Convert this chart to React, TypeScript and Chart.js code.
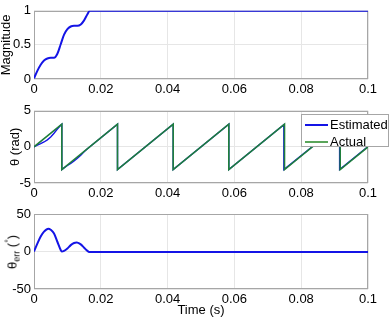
import React, { useEffect, useRef } from 'react';
import { Chart, registerables } from 'chart.js';
Chart.register(...registerables);

const FONT = "'Liberation Sans', Arial, Helvetica, sans-serif";

const timeTicks = [0, 0.02, 0.04, 0.06, 0.08, 0.1];
const magTicks = [0, 0.5, 1];
const thetaTicks = [-5, 0, 5];
const errTicks = [-50, 0, 50];

// Magnitude (estimated)
const magTime = [0, 0.001, 0.002, 0.003, 0.004, 0.005, 0.006, 0.007, 0.008, 0.009, 0.010, 0.011, 0.012, 0.013, 0.014, 0.015, 0.016, 0.0167, 0.1];
const magValue = [0.01, 0.12, 0.21, 0.27, 0.30, 0.31, 0.31, 0.37, 0.51, 0.65, 0.73, 0.77, 0.78, 0.78, 0.80, 0.86, 0.95, 1.0, 1.0];

// Phase angle theta (rad)
const estTime = [0, 0.001, 0.002, 0.003, 0.004, 0.005, 0.006, 0.007, 0.008, 0.00833, 0.00833, 0.009, 0.010, 0.011, 0.012, 0.013, 0.014, 0.015, 0.016, 0.017, 0.025, 0.025, 0.04167, 0.04167, 0.05833, 0.05833, 0.0748, 0.0748, 0.0915, 0.0915, 0.1];
const estValue = [0, 0.24, 0.44, 0.68, 0.98, 1.38, 1.9, 2.48, 3.0, 3.14, -3.14, -2.91, -2.58, -2.29, -1.96, -1.58, -1.14, -0.68, -0.25, 0.13, 3.14, -3.14, 3.14, -3.14, 3.14, -3.14, 3.07, -3.14, 3.07, -3.14, 0.06];
const actTime = [0, 0.00833, 0.00833, 0.025, 0.025, 0.04167, 0.04167, 0.05833, 0.05833, 0.075, 0.075, 0.09167, 0.09167, 0.1];
const actValue = [0, 3.14, -3.14, 3.14, -3.14, 3.14, -3.14, 3.14, -3.14, 3.14, -3.14, 3.14, -3.14, 0];

// Phase error (degrees)
const errTime = [0, 0.001, 0.002, 0.003, 0.0043, 0.005, 0.006, 0.007, 0.008, 0.0083, 0.009, 0.010, 0.011, 0.012, 0.0127, 0.013, 0.014, 0.015, 0.016, 0.0165, 0.1];
const errValue = [0, 10.5, 20, 26.5, 30.5, 29, 24, 13, 2, 0, 0.8, 4, 8.5, 11.3, 12, 11.8, 9.5, 5, 0.8, -0.5, -0.5];

const BLUE = '#1414e6';
const GREEN = '#1f7f3c';
const GRID = '#e6e6e6';
const FRAME = '#a6a6a6';

const zip = (xs: number[], ys: number[]) => xs.map((x, i) => ({ x, y: ys[i] }));

const framePlugin = {
  id: 'frame',
  beforeDatasetsDraw(chart: any) {
    const { ctx, chartArea: a } = chart;
    ctx.save();
    ctx.strokeStyle = FRAME;
    ctx.lineWidth = 1;
    ctx.strokeRect(Math.round(a.left) + 0.5, Math.round(a.top) + 0.5, Math.round(a.right - a.left) - 1, Math.round(a.bottom - a.top) - 1);
    ctx.restore();
  },
};

type Opts = {
  datasets: any[];
  yTicks: number[];
  yTitle?: string;
  yTitlePad?: number;
  padTop: number;
  xHeight: number;
  xTitle?: string;
};

function makeConfig(o: Opts): any {
  return {
    type: 'line',
    data: { datasets: o.datasets },
    plugins: [framePlugin],
    options: {
      responsive: false,
      animation: false,
      parsing: true,
      layout: { padding: { left: 0, right: 23, top: o.padTop, bottom: 0 } },
      plugins: { legend: { display: false }, tooltip: { enabled: false } },
      elements: { point: { radius: 0 } },
      scales: {
        x: {
          type: 'linear',
          min: 0,
          max: 0.1,
          afterBuildTicks: (s: any) => { s.ticks = timeTicks.map((v) => ({ value: v })); },
          afterFit: (s: any) => { s.height = o.xHeight; },
          ticks: { color: '#000', font: { size: 13, family: FONT }, padding: 3, maxRotation: 0, callback: (v: any) => String(v) },
          grid: { color: GRID, drawTicks: false, lineWidth: 1 },
          border: { display: false },
          title: o.xTitle
            ? { display: true, text: o.xTitle, color: '#000', font: { size: 13, family: FONT, lineHeight: 1 }, padding: { top: 0, bottom: 2 } }
            : { display: false },
        },
        y: {
          type: 'linear',
          min: o.yTicks[0],
          max: o.yTicks[o.yTicks.length - 1],
          afterBuildTicks: (s: any) => { s.ticks = o.yTicks.map((v) => ({ value: v })); },
          afterFit: (s: any) => { s.width = 34; },
          ticks: { color: '#000', font: { size: 13, family: FONT }, padding: 3, callback: (v: any) => String(v) },
          grid: { color: GRID, drawTicks: false, lineWidth: 1 },
          border: { display: false },
          title: o.yTitle
            ? { display: true, text: o.yTitle, color: '#000', font: { size: 13, family: FONT, lineHeight: 1 }, padding: { top: o.yTitlePad ?? 0, bottom: 0 } }
            : { display: false },
        },
      },
    },
  };
}

function Panel({ top, height, config }: { top: number; height: number; config: any }) {
  const ref = useRef<HTMLCanvasElement | null>(null);
  useEffect(() => {
    if (!ref.current) return;
    const chart = new Chart(ref.current, config);
    return () => chart.destroy();
  }, []);
  return <canvas ref={ref} width={391} height={height} style={{ position: 'absolute', left: 0, top, width: 391, height }} />;
}

export default function App() {
  const magConfig = makeConfig({
    datasets: [{ label: 'Magnitude', data: zip(magTime, magValue), borderColor: BLUE, borderWidth: 2, cubicInterpolationMode: 'monotone' }],
    yTicks: magTicks,
    yTitle: 'Magnitude',
    yTitlePad: 0,
    padTop: 5,
    xHeight: 21,
  });
  const thetaConfig = makeConfig({
    datasets: [
      { label: 'Estimated', data: zip(estTime, estValue), borderColor: BLUE, borderWidth: 1.4, tension: 0, order: 1 },
      { label: 'Actual', data: zip(actTime, actValue), borderColor: GREEN, borderWidth: 1.6, tension: 0, order: 0 },
    ],
    yTicks: thetaTicks,
    yTitle: 'θ (rad)',
    yTitlePad: 9,
    padTop: 10,
    xHeight: 17,
  });
  const errConfig = makeConfig({
    datasets: [{ label: 'θerr', data: zip(errTime, errValue), borderColor: BLUE, borderWidth: 2, cubicInterpolationMode: 'monotone' }],
    yTicks: errTicks,
    padTop: 14,
    xHeight: 30,
    xTitle: 'Time (s)',
  });

  return (
    <div style={{ position: 'fixed', left: 0, top: 0, width: 391, height: 319, background: '#fff', overflow: 'hidden', fontFamily: FONT }}>
      <Panel top={0} height={100} config={magConfig} />
      <Panel top={100} height={100} config={thetaConfig} />
      <Panel top={200} height={119} config={errConfig} />
      <div
        style={{
          position: 'absolute', left: 13, top: 252, transform: 'translate(-50%, -50%) rotate(-90deg)',
          fontSize: 13, lineHeight: 1, whiteSpace: 'nowrap', color: '#000',
        }}
      >
        θ<sub style={{ fontSize: 9, verticalAlign: '-3px', lineHeight: 1 }}>err</sub> (<sup style={{ fontSize: 9, verticalAlign: '5px', lineHeight: 1 }}>°</sup>)
      </div>
      <div
        style={{
          position: 'absolute', left: 301, top: 114, width: 88, height: 33, boxSizing: 'border-box',
          border: `1px solid ${FRAME}`, background: '#fff', fontSize: 13, color: '#000',
        }}
      >
        <div style={{ position: 'absolute', left: 3, top: 9, width: 23, height: 2, background: BLUE }} />
        <div style={{ position: 'absolute', left: 28, top: 2, lineHeight: '15px' }}>Estimated</div>
        <div style={{ position: 'absolute', left: 3, top: 26, width: 23, height: 2, background: '#5aa55a' }} />
        <div style={{ position: 'absolute', left: 28, top: 19, lineHeight: '15px' }}>Actual</div>
      </div>
    </div>
  );
}
